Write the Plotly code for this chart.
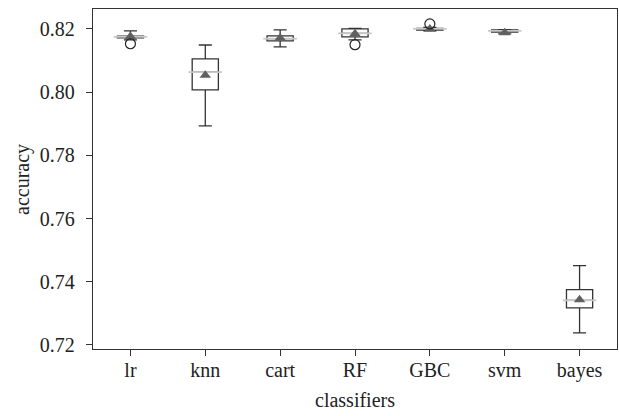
import plotly.graph_objects as go

classifiers = ["lr", "knn", "cart", "RF", "GBC", "svm", "bayes"]
lower_whisker = [0.8165, 0.7893, 0.8143, 0.8165, 0.8194, 0.8184, 0.7238]
q1 = [0.8172, 0.8007, 0.8162, 0.8175, 0.8196, 0.8190, 0.7317]
median = [0.8175, 0.8063, 0.8169, 0.8186, 0.8200, 0.8194, 0.7341]
q3 = [0.8177, 0.8105, 0.8178, 0.8200, 0.8202, 0.8197, 0.7375]
upper_whisker = [0.8194, 0.8149, 0.8197, 0.8202, 0.8205, 0.8198, 0.7451]
means = [0.8176, 0.8053, 0.8171, 0.8185, 0.8200, 0.8188, 0.7343]
outlier_cats = ["lr", "RF", "GBC"]
outlier_vals = [0.8153, 0.8150, 0.8216]

y_ticks = [0.72, 0.74, 0.76, 0.78, 0.80, 0.82]

FONT = "Times New Roman, Liberation Serif, serif"

fig = go.Figure()
fig.add_trace(go.Box(
    x=classifiers, q1=q1, median=median, q3=q3,
    lowerfence=lower_whisker, upperfence=upper_whisker,
    line=dict(color="#333333", width=1.3), fillcolor="white",
    whiskerwidth=0.5, boxpoints=False, showlegend=False, hoverinfo="skip",
))
fig.add_trace(go.Scatter(
    x=classifiers, y=median, mode="markers",
    marker=dict(symbol="line-ew", size=24, line=dict(color="#c8c8c8", width=1.8)),
    showlegend=False, hoverinfo="skip",
))
fig.add_trace(go.Scatter(
    x=classifiers, y=means, mode="markers",
    marker=dict(symbol="triangle-up", size=10, color="#606060"),
    showlegend=False,
))
fig.add_trace(go.Scatter(
    x=outlier_cats, y=outlier_vals, mode="markers",
    marker=dict(symbol="circle-open", size=10, color="#222222", line=dict(width=1.2)),
    showlegend=False,
))

fig.update_layout(
    width=619, height=416,
    margin=dict(l=93, r=2, t=9, b=67, autoexpand=False),
    paper_bgcolor="white", plot_bgcolor="white",
    font=dict(family=FONT, size=20, color="#222222"),
    boxgap=0.5,
    annotations=[
        dict(text="classifiers", xref="paper", yref="paper", x=0.5, y=-0.15,
             xanchor="center", yanchor="middle", showarrow=False,
             font=dict(family=FONT, size=20, color="#222222")),
        dict(text="accuracy", xref="paper", yref="paper", x=-0.1355, y=0.5,
             xanchor="center", yanchor="middle", showarrow=False, textangle=-90,
             font=dict(family=FONT, size=20, color="#222222")),
    ],
)
fig.update_xaxes(
    type="category", categoryorder="array", categoryarray=classifiers,
    range=[-0.5, 6.5], automargin=False,
    showline=True, linecolor="#333333", linewidth=1.3, mirror=True,
    ticks="outside", ticklen=6, tickcolor="#333333", tickwidth=1.3,
    ticklabelstandoff=-3,
    showgrid=False, zeroline=False,
    tickfont=dict(family=FONT, size=20),
)
fig.update_yaxes(
    range=[0.7187, 0.8263], automargin=False,
    tickvals=y_ticks, ticktext=[f"{v:.2f}" for v in y_ticks],
    showline=True, linecolor="#333333", linewidth=1.3, mirror=True,
    ticks="outside", ticklen=6, tickcolor="#333333", tickwidth=1.3,
    ticklabelstandoff=7,
    showgrid=False, zeroline=False,
    tickfont=dict(family=FONT, size=20),
)

fig.write_html(
    "out.html",
    config={"displayModeBar": False},
    post_script="document.body.style.margin='0';document.body.style.overflow='hidden';",
)
